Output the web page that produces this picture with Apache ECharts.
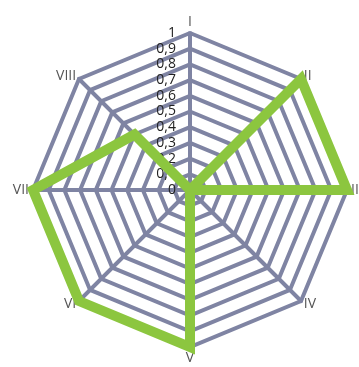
<!DOCTYPE html>
<html>
<head>
<meta charset="utf-8">
<script src="https://cdn.jsdelivr.net/npm/echarts@6/dist/echarts.min.js"></script>
<style>
  html, body { margin: 0; padding: 0; background: #fff; }
  #chart { width: 359px; height: 367px; }
</style>
</head>
<body>
<div id="chart"></div>
<script>
// Axis names in clockwise order starting from the top
const axisNames = ['I', 'II', 'III', 'IV', 'V', 'VI', 'VII', 'VIII'];
const seriesValues = [0, 1, 1, 0, 1, 1, 1, 0.5];
const scaleMax = 1;
const scaleStep = 0.1;

// ECharts lays radar axes counterclockwise, so keep the first axis at the top
// and reverse the rest to get a clockwise arrangement.
const order = [0].concat(axisNames.map((_, i) => i).slice(1).reverse());
const indicators = order.map(i => ({ name: axisNames[i], max: scaleMax, min: 0 }));
const values = order.map(i => seriesValues[i]);

const cx = 190, cy = 190, r = 157;
const gridColor = '#7f84a3';
const fmt = v => String(Math.round(v * 10) / 10).replace('.', ',');

const chart = echarts.init(document.getElementById('chart'));
chart.setOption({
  animation: false,
  radar: {
    center: [cx, cy],
    radius: r,
    startAngle: 90,
    shape: 'polygon',
    splitNumber: 10,
    indicator: indicators,
    axisName: { color: '#555', fontSize: 14, fontFamily: 'Open Sans' },
    nameGap: 4,
    splitLine: { lineStyle: { color: gridColor, width: 4 } },
    axisLine: { lineStyle: { color: gridColor, width: 4 } },
    splitArea: { show: false },
    axisTick: { show: false },
    axisLabel: { show: false }
  },
  // Value scale drawn along the first (top) axis
  grid: { left: cx - 12, width: 1, top: cy - r, height: r },
  xAxis: { type: 'value', show: false },
  yAxis: {
    type: 'value', min: 0, max: scaleMax, interval: scaleStep,
    axisLine: { show: false }, axisTick: { show: false }, splitLine: { show: false },
    axisLabel: { color: '#222', fontSize: 14, fontFamily: 'Open Sans', margin: 2, formatter: fmt }
  },
  series: [{
    type: 'radar',
    symbol: 'none',
    lineStyle: { color: '#8cc63f', width: 10, join: 'miter' },
    data: [{ value: values }]
  }]
});
</script>
</body>
</html>
